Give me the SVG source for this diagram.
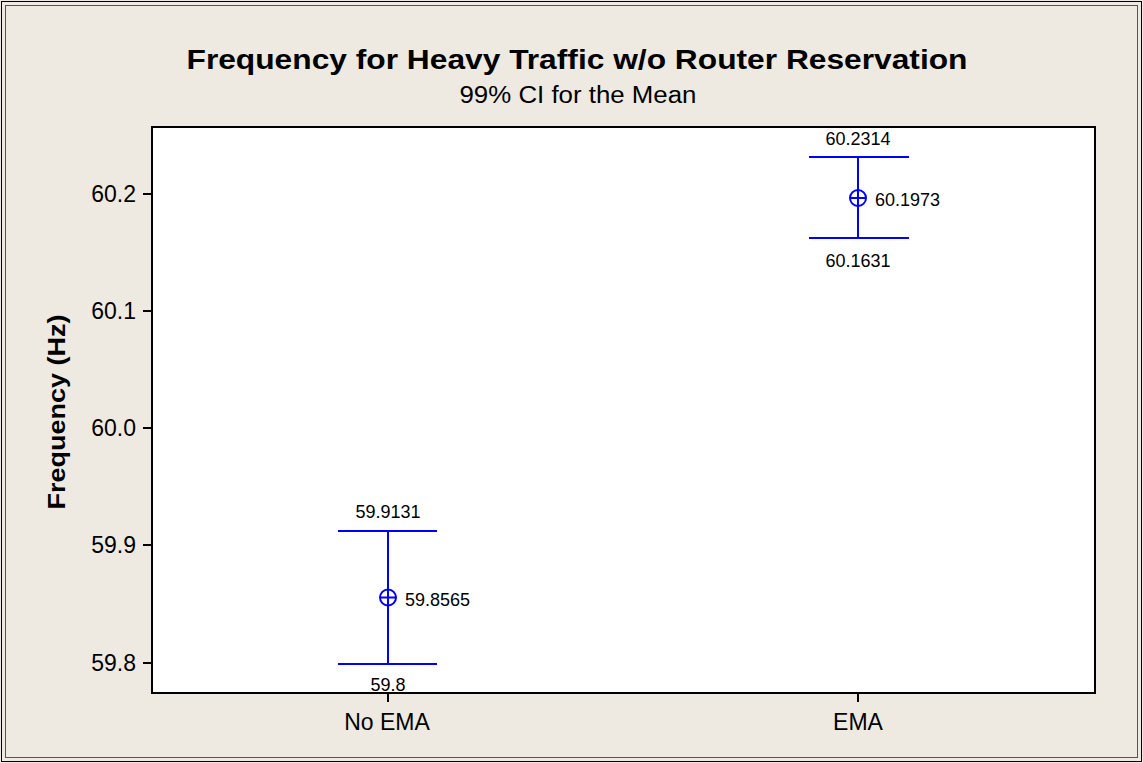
<svg xmlns="http://www.w3.org/2000/svg" width="1143" height="763" viewBox="0 0 1143 763">
<style>
.t{font-family:"Liberation Sans",Arial,sans-serif;fill:#000}
.tick{font-size:23px;text-anchor:end}
.lab{font-size:18px}
.ci{stroke:#0000FF;stroke-width:2;fill:none}
.ax{stroke:#000;stroke-width:2;fill:none}
</style>
<rect x="0" y="0" width="1143" height="763" fill="#EEEAE1"/>
<rect x="1.5" y="1.5" width="1140" height="760" fill="none" stroke="#000" stroke-width="1"/>
<rect x="5.5" y="5.5" width="1132" height="752" fill="none" stroke="#555" stroke-width="1"/>
<g id="title">
<text class="t" x="577" y="69" font-size="28" font-weight="bold" text-anchor="middle" textLength="781" lengthAdjust="spacingAndGlyphs">Frequency for Heavy Traffic w/o Router Reservation</text>
<text class="t" x="578" y="103" font-size="23" text-anchor="middle" textLength="237" lengthAdjust="spacingAndGlyphs">99% CI for the Mean</text>
</g>
<g id="plot">
<rect x="152" y="127" width="943" height="566" fill="#fff" stroke="#000" stroke-width="2"/>
</g>
<g id="yaxis">
<line class="ax" x1="143" y1="194" x2="152" y2="194"/>
<line class="ax" x1="143" y1="311" x2="152" y2="311"/>
<line class="ax" x1="143" y1="428" x2="152" y2="428"/>
<line class="ax" x1="143" y1="545" x2="152" y2="545"/>
<line class="ax" x1="143" y1="663" x2="152" y2="663"/>
<text class="t tick" x="136" y="202">60.2</text>
<text class="t tick" x="136" y="319">60.1</text>
<text class="t tick" x="136" y="436">60.0</text>
<text class="t tick" x="136" y="553">59.9</text>
<text class="t tick" x="136" y="671">59.8</text>
<text class="t" transform="translate(65,412) rotate(-90)" font-size="24" font-weight="bold" text-anchor="middle" textLength="195" lengthAdjust="spacingAndGlyphs">Frequency  (Hz)</text>
</g>
<g id="xaxis">
<line class="ax" x1="388" y1="693" x2="388" y2="702"/>
<line class="ax" x1="858" y1="693" x2="858" y2="702"/>
<text class="t" x="387" y="730" font-size="23" text-anchor="middle">No EMA</text>
<text class="t" x="858" y="730" font-size="23" text-anchor="middle">EMA</text>
</g>
<g id="connectors">
<line class="ci" x1="388" y1="531" x2="388" y2="664"/>
<line class="ci" x1="338" y1="531" x2="437" y2="531"/>
<line class="ci" x1="338" y1="664" x2="437" y2="664"/>
<line class="ci" x1="858" y1="157" x2="858" y2="238"/>
<line class="ci" x1="809" y1="157" x2="909" y2="157"/>
<line class="ci" x1="809" y1="238" x2="909" y2="238"/>
</g>
<g id="noema-mean">
<circle class="ci" cx="388" cy="597.5" r="8"/>
<line class="ci" x1="380" y1="597.5" x2="396" y2="597.5"/>
<text class="t lab" x="405" y="606">59.8565</text>
<text class="t lab" x="388" y="518" text-anchor="middle">59.9131</text>
<text class="t lab" x="388" y="691" text-anchor="middle">59.8</text>
</g>
<g id="ema-mean">
<circle class="ci" cx="858" cy="198" r="8"/>
<line class="ci" x1="850" y1="198" x2="866" y2="198"/>
<text class="t lab" x="875" y="206">60.1973</text>
<text class="t lab" x="858" y="145" text-anchor="middle">60.2314</text>
<text class="t lab" x="858" y="267" text-anchor="middle">60.1631</text>
</g>
</svg>
